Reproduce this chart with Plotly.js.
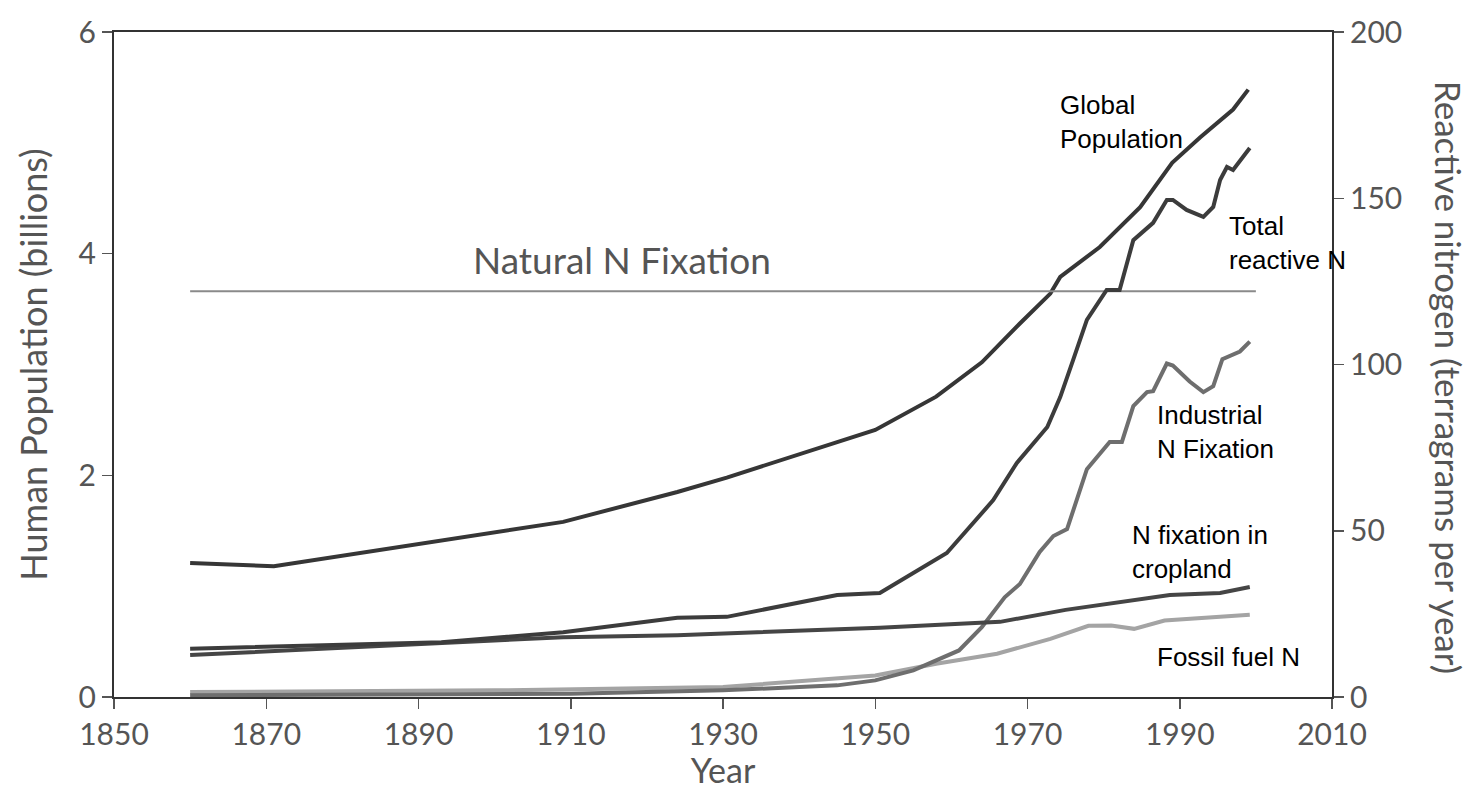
<!DOCTYPE html>
<html>
<head>
<meta charset="utf-8">
<script src="https://cdn.plot.ly/plotly-3.0.1.min.js"></script>
<style>
  html, body { margin: 0; padding: 0; background: #fff; }
  #chart { width: 1474px; height: 790px; }
</style>
</head>
<body>
<div id="chart"></div>
<script>
// Global population (billions, left axis)
const popYears = [1860, 1871, 1909, 1924, 1930.5, 1950, 1958, 1964, 1969, 1973, 1974.3, 1979.5, 1984.8, 1989, 1992.7, 1997, 1999];
const popValues = [1.21, 1.18, 1.58, 1.85, 1.98, 2.41, 2.71, 3.02, 3.37, 3.64, 3.79, 4.06, 4.42, 4.82, 5.05, 5.30, 5.48];

// Reactive nitrogen series (Tg N per year, right axis)
const totalYears = [1860, 1893, 1909, 1924, 1930.5, 1945, 1950.6, 1959.4, 1965.5, 1968.6, 1972.6, 1974.3, 1976, 1977.8, 1980.4, 1982.1, 1983.9, 1986.5, 1988.3, 1989.1, 1990.9, 1993.1, 1994.4, 1995.3, 1996.2, 1997, 1999.2];
const totalValues = [14.5, 16.5, 19.5, 23.8, 24.1, 30.7, 31.3, 43.3, 59.2, 70.4, 81.2, 90.2, 101.4, 113.4, 122.4, 122.4, 137.4, 142.6, 149.5, 149.5, 146.5, 144.4, 147.4, 155.5, 159.4, 158.5, 165.1];

const croplandYears = [1860, 1909, 1924, 1950.6, 1966.4, 1975, 1988.7, 1995.3, 1999.2];
const croplandValues = [12.6, 18.0, 18.6, 20.8, 22.6, 26.2, 30.7, 31.3, 33.1];

const industrialYears = [1860, 1910, 1930, 1945, 1950, 1955, 1961, 1964, 1967, 1969, 1971.6, 1973.4, 1975.2, 1977.8, 1980.8, 1982.4, 1983.9, 1985.7, 1986.5, 1988.3, 1989.1, 1991.3, 1993.1, 1994.4, 1995.6, 1997, 1997.9, 1999.2];
const industrialValues = [0.5, 1, 2, 3.5, 5, 8, 14, 21, 30, 34, 43.6, 48.4, 50.5, 68.5, 76.7, 76.7, 87.5, 91.7, 92, 100.3, 99.7, 94.9, 91.7, 93.5, 101.6, 103, 103.9, 106.9];

const fossilYears = [1860, 1900, 1930, 1945, 1950, 1958, 1966, 1973, 1978, 1981, 1984, 1988, 1992, 1996, 1999.2];
const fossilValues = [1.5, 2, 3, 5.5, 6.5, 10, 13, 17.5, 21.4, 21.5, 20.5, 23, 23.5, 24, 24.7];

const naturalYears = [1860, 2000];
const naturalValues = [122, 122];

const xTicks = [1850, 1870, 1890, 1910, 1930, 1950, 1970, 1990, 2010];
const leftTicks = [0, 2, 4, 6];
const rightTicks = [0, 50, 100, 150, 200];

const labelFont = 'Lato, "Open Sans", sans-serif';
const noteFont = '"Liberation Sans", Arial, sans-serif';

function line(x, y, color, width, axis) {
  return {
    x: x, y: y, type: "scatter", mode: "lines", yaxis: axis,
    line: { color: color, width: width }, hoverinfo: "skip", showlegend: false
  };
}

const traces = [
  line(naturalYears, naturalValues, "#8a8a8a", 2, "y2"),
  line(fossilYears, fossilValues, "#a4a4a4", 4, "y2"),
  line(industrialYears, industrialValues, "#6e6e6e", 4, "y2"),
  line(croplandYears, croplandValues, "#454545", 4, "y2"),
  line(totalYears, totalValues, "#3c3c3c", 4, "y2"),
  line(popYears, popValues, "#363636", 4, "y")
];

function note(text, x, y) {
  return {
    text: text, x: x, y: y, xref: "x", yref: "y2", xanchor: "left", yanchor: "middle",
    align: "left", showarrow: false, font: { family: noteFont, size: 26, color: "#000" }
  };
}

const axisBase = {
  showline: true, linecolor: "#333", linewidth: 2, showgrid: false, zeroline: false,
  ticks: "outside", ticklen: 10, tickwidth: 1.5, tickcolor: "#555",
  tickfont: { family: labelFont, size: 30, color: "#555" }
};

const layout = {
  width: 1474, height: 790,
  margin: { l: 114, r: 142, t: 32, b: 93 },
  paper_bgcolor: "#fff", plot_bgcolor: "#fff",
  showlegend: false,
  xaxis: Object.assign({}, axisBase, {
    range: [1850, 2010], tickvals: xTicks, mirror: true,
    title: { text: "Year", font: { family: labelFont, size: 34, color: "#555" }, standoff: 8 }
  }),
  yaxis: Object.assign({}, axisBase, {
    range: [0, 6], tickvals: leftTicks,
    title: { text: "Human Population (billions)", font: { family: labelFont, size: 36, color: "#555" }, standoff: 20 }
  }),
  yaxis2: Object.assign({}, axisBase, {
    range: [0, 200], tickvals: rightTicks, overlaying: "y", side: "right"
  }),
  annotations: [
    {
      text: "Natural N Fixation", x: 1916.7, y: 131.7, xref: "x", yref: "y2",
      xanchor: "center", yanchor: "middle", showarrow: false,
      font: { family: labelFont, size: 37, color: "#555" }
    },
    {
      text: "Reactive nitrogen (terragrams per year)", x: 1.096, y: 0.48,
      xref: "paper", yref: "paper", xanchor: "center", yanchor: "middle",
      textangle: 90, showarrow: false,
      font: { family: labelFont, size: 35, color: "#555" }
    },
    note("Global<br>Population", 1974.0, 172.9),
    note("Total<br>reactive N", 1996.2, 136.5),
    note("Industrial<br>N Fixation", 1986.7, 79.7),
    note("N fixation in<br>cropland", 1983.5, 43.6),
    note("Fossil fuel N", 1986.7, 12.0)
  ]
};

Plotly.newPlot("chart", traces, layout, { displayModeBar: false, staticPlot: true });
</script>
</body>
</html>
